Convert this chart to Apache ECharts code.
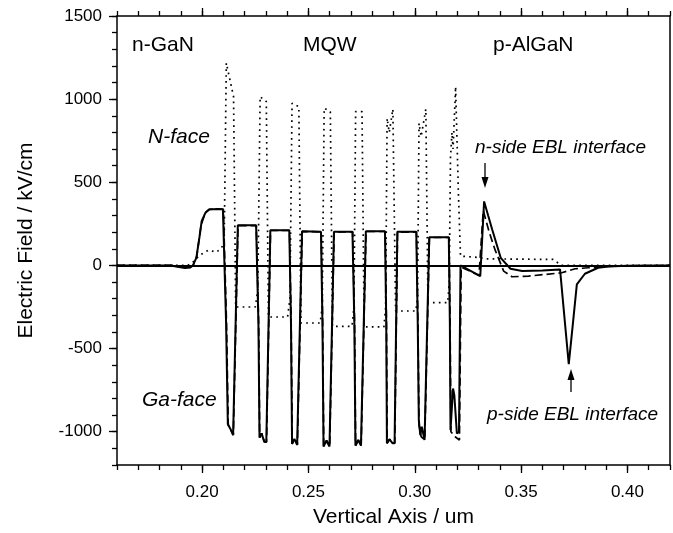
<!DOCTYPE html>
<html>
<head>
<meta charset="utf-8">
<script src="https://cdn.jsdelivr.net/npm/echarts@6/dist/echarts.min.js"></script>
<style>
html,body{margin:0;padding:0;background:#fff;}
#chart{width:673px;height:533px;}
</style>
</head>
<body>
<div id="chart"></div>
<script>
// ---- data (x in um, y in kV/cm) ----
const xTickLabels = ['0.20', '0.25', '0.30', '0.35', '0.40'];
const xMajorTicks = [0.20, 0.25, 0.30, 0.35, 0.40];
const yMajorTicks = [-1000, -500, 0, 500, 1000, 1500];

// solid curve
const fieldSolid = [
  [0.160,0],[0.185,0],[0.1885,-8],[0.1920,-16],[0.1945,-12],[0.1957,0],[0.1973,46],[0.1990,190],[0.1998,266],[0.2015,315],[0.2033,336],[0.2070,340],[0.2098,338],
  [0.2113,-350],[0.2121,-953],[0.2132,-980],[0.2146,-1020],[0.2152,-1025],[0.2168,242],[0.2254,242],
  [0.2265,-350],[0.2270,-1035],[0.2280,-1010],[0.2292,-1060],[0.2302,-1062],[0.2321,212],[0.2410,212],
  [0.2418,-350],[0.2423,-1073],[0.2434,-1043],[0.2447,-1079],[0.2455,-1079],[0.2470,206],[0.2559,202],
  [0.2566,-350],[0.2571,-1089],[0.2585,-1053],[0.2599,-1089],[0.2607,-1087],[0.2620,202],[0.2707,202],
  [0.2716,-350],[0.2721,-1083],[0.2734,-1050],[0.2747,-1083],[0.2755,-1083],[0.2770,206],[0.2860,206],
  [0.2866,-350],[0.2869,-1069],[0.2881,-1045],[0.2895,-1069],[0.2905,-1069],[0.2918,202],[0.3007,202],
  [0.3014,-350],[0.3019,-930],[0.3026,-1020],[0.3033,-970],[0.3046,-1050],[0.3055,-1052],[0.3068,170],[0.3160,170],
  [0.3165,-350],[0.3168,-990],[0.3176,-1000],[0.3180,-740],[0.3186,-780],[0.3198,-1010],[0.3208,-1000],[0.3215,0],
  [0.3222,-8],[0.3308,-64],[0.3326,385],[0.3345,300],[0.3364,216],[0.3404,46],[0.3450,-20],[0.3505,-34],[0.3600,-30],[0.3683,-24],
  [0.3724,-594],[0.3745,-330],[0.3762,-114],[0.3800,-50],[0.3862,-14],[0.3910,-6],[0.4000,-2],[0.4200,0]
];

// dashed curve
const fieldDashed = [
  [0.160,0],[0.186,0],[0.1900,-10],[0.1935,-14],[0.1958,0],[0.1975,55],[0.1995,240],[0.2015,318],[0.2035,338],[0.2070,340],[0.2100,338],
  [0.2115,-350],[0.2123,-960],[0.2134,-985],[0.2147,-1020],[0.2153,-1025],[0.2169,240],[0.2255,240],
  [0.2266,-350],[0.2271,-1035],[0.2281,-1010],[0.2293,-1060],[0.2303,-1062],[0.2322,210],[0.2411,210],
  [0.2419,-350],[0.2424,-1073],[0.2435,-1043],[0.2448,-1079],[0.2456,-1079],[0.2471,204],[0.2560,202],
  [0.2567,-350],[0.2572,-1089],[0.2586,-1053],[0.2600,-1089],[0.2608,-1087],[0.2621,202],[0.2708,202],
  [0.2717,-350],[0.2722,-1083],[0.2735,-1050],[0.2748,-1083],[0.2756,-1083],[0.2771,204],[0.2861,204],
  [0.2867,-350],[0.2870,-1069],[0.2882,-1045],[0.2896,-1069],[0.2906,-1069],[0.2919,200],[0.3008,200],
  [0.3015,-350],[0.3020,-960],[0.3030,-1030],[0.3047,-1050],[0.3056,-1052],[0.3069,168],[0.3161,168],
  [0.3166,-350],[0.3170,-1000],[0.3190,-1030],[0.3210,-1050],[0.3218,-10],[0.3225,0],
  [0.3302,-60],[0.3322,330],[0.3350,200],[0.3378,92],[0.3418,-34],[0.3457,-68],[0.3535,-64],[0.3613,-54],[0.3691,-44],
  [0.3754,-20],[0.3816,-14],[0.3900,-6],[0.4000,-2],[0.4200,0]
];

// dotted curve
const fieldDotted = [
  [0.160,0],[0.193,0],[0.1950,10],[0.1987,60],[0.2030,92],[0.2068,80],[0.2092,106],[0.2104,150],[0.2114,1217],[0.2148,1015],[0.2158,-250],
  [0.2250,-250],[0.2262,-150],[0.2273,1015],[0.2302,985],[0.2312,-310],
  [0.2402,-310],[0.2413,-200],[0.2423,975],[0.2455,955],[0.2465,-346],
  [0.2555,-346],[0.2565,-250],[0.2574,946],[0.2603,925],[0.2613,-366],
  [0.2705,-366],[0.2714,-250],[0.2722,925],[0.2752,925],[0.2762,-370],
  [0.2855,-370],[0.2863,-250],[0.2870,885],[0.2880,800],[0.2897,940],[0.2910,-274],
  [0.3005,-274],[0.3013,-200],[0.3020,855],[0.3030,775],[0.3052,940],[0.3062,-224],
  [0.3155,-224],[0.3162,-100],[0.3168,650],[0.3175,800],[0.3180,700],[0.3192,1075],[0.3205,440],[0.3215,56],
  [0.3300,48],[0.3330,40],[0.3650,36],[0.3690,0],[0.4200,0]
];

const FONT = '"Liberation Sans", Arial, sans-serif';
const chart = echarts.init(document.getElementById('chart'), null, {renderer: 'canvas'});

const axisLineStyle = {color: '#000', width: 1.5};
function xAxisDef(pos, major, withLabels) {
  const a = {
    type: 'value', min: 0.16, max: 0.42, interval: 0.01, position: pos,
    axisLine: {show: !major, onZero: false, lineStyle: axisLineStyle},
    axisTick: {show: true, length: major ? 8 : 5, lineStyle: {color: '#000', width: 1.3}},
    axisLabel: {show: false},
    splitLine: {show: false}
  };
  if (major) a.axisTick.customValues = xMajorTicks;
  if (withLabels) {
    a.axisLabel = {
      show: true, color: '#000', fontSize: 17, fontFamily: FONT, margin: 19,
      formatter: function (v) {
        const k = Math.round(v * 100);
        return (k % 5 === 0) ? xTickLabels[xMajorTicks.findIndex(t => Math.round(t * 100) === k)] || '' : '';
      }
    };
    a.name = 'Vertical Axis / um';
    a.nameLocation = 'middle';
    a.nameGap = 42;
    a.nameTextStyle = {color: '#000', fontSize: 21, fontFamily: FONT};
  }
  return a;
}
function yAxisDef(pos, major, withLabels) {
  const a = {
    type: 'value', min: -1200, max: 1500, interval: 100, position: pos,
    axisLine: {show: !major, onZero: false, lineStyle: axisLineStyle},
    axisTick: {show: pos === 'left', length: major ? 8 : 5, lineStyle: {color: '#000', width: 1.3}},
    axisLabel: {show: false},
    splitLine: {show: false}
  };
  if (major) a.axisTick.customValues = yMajorTicks;
  if (withLabels) {
    a.axisLabel = {
      show: true, color: '#000', fontSize: 17, fontFamily: FONT, margin: 15,
      formatter: function (v) { return yMajorTicks.indexOf(Math.round(v)) >= 0 ? String(Math.round(v)) : ''; }
    };
    a.name = 'Electric Field / kV/cm';
    a.nameLocation = 'middle';
    a.nameGap = 80;
    a.nameRotate = 90;
    a.nameTextStyle = {color: '#000', fontSize: 21, fontFamily: FONT};
  }
  return a;
}

const option = {
  animation: false,
  backgroundColor: '#fff',
  grid: {left: 117, right: 1, top: 16, bottom: 67, containLabel: false},
  xAxis: [
    xAxisDef('bottom', false, true),
    xAxisDef('bottom', true, false),
    xAxisDef('top', false, false),
    xAxisDef('top', true, false)
  ],
  yAxis: [
    yAxisDef('left', false, true),
    yAxisDef('left', true, false),
    yAxisDef('right', false, false)
  ],
  series: [
    {
      name: 'dotted', type: 'line', data: fieldDotted, showSymbol: false, symbol: 'none',
      lineStyle: {color: '#000', width: 1.7, type: [1.7, 4.2]}, z: 2,
      markLine: {
        silent: true, symbol: 'none', label: {show: false},
        lineStyle: {color: '#000', width: 1.8, type: 'solid'},
        data: [{yAxis: 0}]
      }
    },
    {
      name: 'dashed', type: 'line', data: fieldDashed, showSymbol: false, symbol: 'none',
      lineStyle: {color: '#000', width: 1.7, type: [8, 4]}, z: 3
    },
    {
      name: 'solid', type: 'line', data: fieldSolid, showSymbol: false, symbol: 'none',
      lineStyle: {color: '#000', width: 2}, z: 4
    }
  ],
  graphic: [
    {type: 'text', style: {text: 'n-GaN', x: 132, y: 45, font: '21px ' + FONT, fill: '#000', textAlign: 'left', textVerticalAlign: 'middle', align: 'left', verticalAlign: 'middle'}},
    {type: 'text', style: {text: 'MQW', x: 303, y: 45, font: '21px ' + FONT, fill: '#000', textAlign: 'left', textVerticalAlign: 'middle', align: 'left', verticalAlign: 'middle'}},
    {type: 'text', style: {text: 'p-AlGaN', x: 493, y: 45, font: '21px ' + FONT, fill: '#000', textAlign: 'left', textVerticalAlign: 'middle', align: 'left', verticalAlign: 'middle'}},
    {type: 'text', style: {text: 'N-face', x: 148, y: 137, font: 'italic 21px ' + FONT, fill: '#000', textAlign: 'left', textVerticalAlign: 'middle', align: 'left', verticalAlign: 'middle'}},
    {type: 'text', style: {text: 'Ga-face', x: 142, y: 400, font: 'italic 21px ' + FONT, fill: '#000', textAlign: 'left', textVerticalAlign: 'middle', align: 'left', verticalAlign: 'middle'}},
    {type: 'text', style: {text: 'n-side EBL interface', x: 475, y: 148, font: 'italic 19px ' + FONT, fill: '#000', textAlign: 'left', textVerticalAlign: 'middle', align: 'left', verticalAlign: 'middle'}},
    {type: 'text', style: {text: 'p-side EBL interface', x: 487, y: 415, font: 'italic 19px ' + FONT, fill: '#000', textAlign: 'left', textVerticalAlign: 'middle', align: 'left', verticalAlign: 'middle'}},
    {type: 'line', shape: {x1: 485, y1: 163, x2: 485, y2: 179}, style: {stroke: '#000', lineWidth: 1.3}},
    {type: 'polygon', shape: {points: [[481.5, 177], [488.5, 177], [485, 188]]}, style: {fill: '#000'}},
    {type: 'line', shape: {x1: 571, y1: 378, x2: 571, y2: 392}, style: {stroke: '#000', lineWidth: 1.3}},
    {type: 'polygon', shape: {points: [[567.5, 380], [574.5, 380], [571, 369]]}, style: {fill: '#000'}}
  ]
};
chart.setOption(option);
</script>
</body>
</html>
